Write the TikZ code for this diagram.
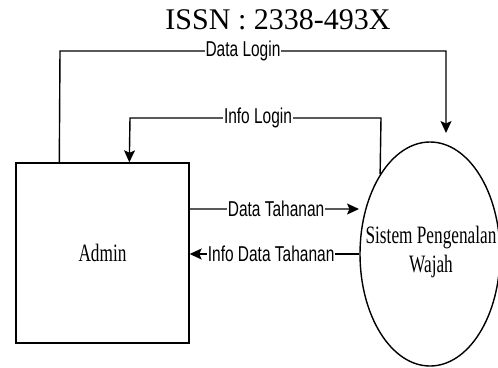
\documentclass[tikz,border=0pt]{standalone}
\usepackage{fontspec}
\usetikzlibrary{arrows.meta,shapes.geometric}
\setmainfont{Liberation Serif}
\newfontfamily\lblfont[FakeStretch=0.72]{Liberation Sans}
\newfontfamily\entfont[FakeStretch=0.69]{Liberation Serif}
\begin{document}
\begin{tikzpicture}[x=1bp,y=-1bp,
  entity/.style={draw,line width=1.4bp,rectangle,minimum width=173bp,minimum height=180bp,inner sep=0pt,
    font=\entfont\fontsize{25bp}{29bp}\selectfont},
  process/.style={draw,line width=1.4bp,ellipse,minimum width=140bp,minimum height=224bp,inner sep=0pt},
  proctext/.style={align=center,inner sep=0pt,font=\entfont\fontsize{25bp}{29bp}\selectfont},
  flow/.style={line width=1.4bp,-{Stealth[length=12bp,width=11bp,inset=2.5bp]}},
  flowlabel/.style={fill=white,inner sep=1bp,font=\lblfont\fontsize{21.5bp}{24bp}\selectfont}]
  \useasboundingbox (0,0) rectangle (498,367);

  % header line
  \node (issn) at (278,20) {\fontsize{30bp}{34bp}\selectfont ISSN : 2338-493X};

  % external entity and process
  \node[entity] (admin) at (102.5,253) {Admin};
  \node[process] (sys) at (430,254) {};
  \node[proctext] (systext) at (431,252) {Sistem Pengenalan\\Wajah};

  % free ends of the flows
  \coordinate (loginend) at (446,133);
  \coordinate (tahananend) at (359,209);

  % Data Login: Admin -> Sistem
  \draw[flow] ([xshift=44bp]admin.north west) -- (60,51)
    -- node[flowlabel,pos=0.474] (lbldl) {Data Login} (446,51) -- (loginend);

  % Info Login: Sistem -> Admin
  \draw[flow] (sys.122) -- (381,118)
    -- node[flowlabel,pos=0.49] (lblil) {Info Login} (130,118)
    -- ([xshift=114bp]admin.north west);

  % Data Tahanan: Admin -> Sistem
  \draw[flow] ([yshift=44bp]admin.east)
    -- node[flowlabel,pos=0.51] (lbldt) {Data Tahanan} (tahananend);

  % Info Data Tahanan: Sistem -> Admin
  \draw[flow] (sys.west)
    -- node[flowlabel,pos=0.52] (lblidt) {Info Data Tahanan} (sys.west -| admin.east);
\end{tikzpicture}
\end{document}
